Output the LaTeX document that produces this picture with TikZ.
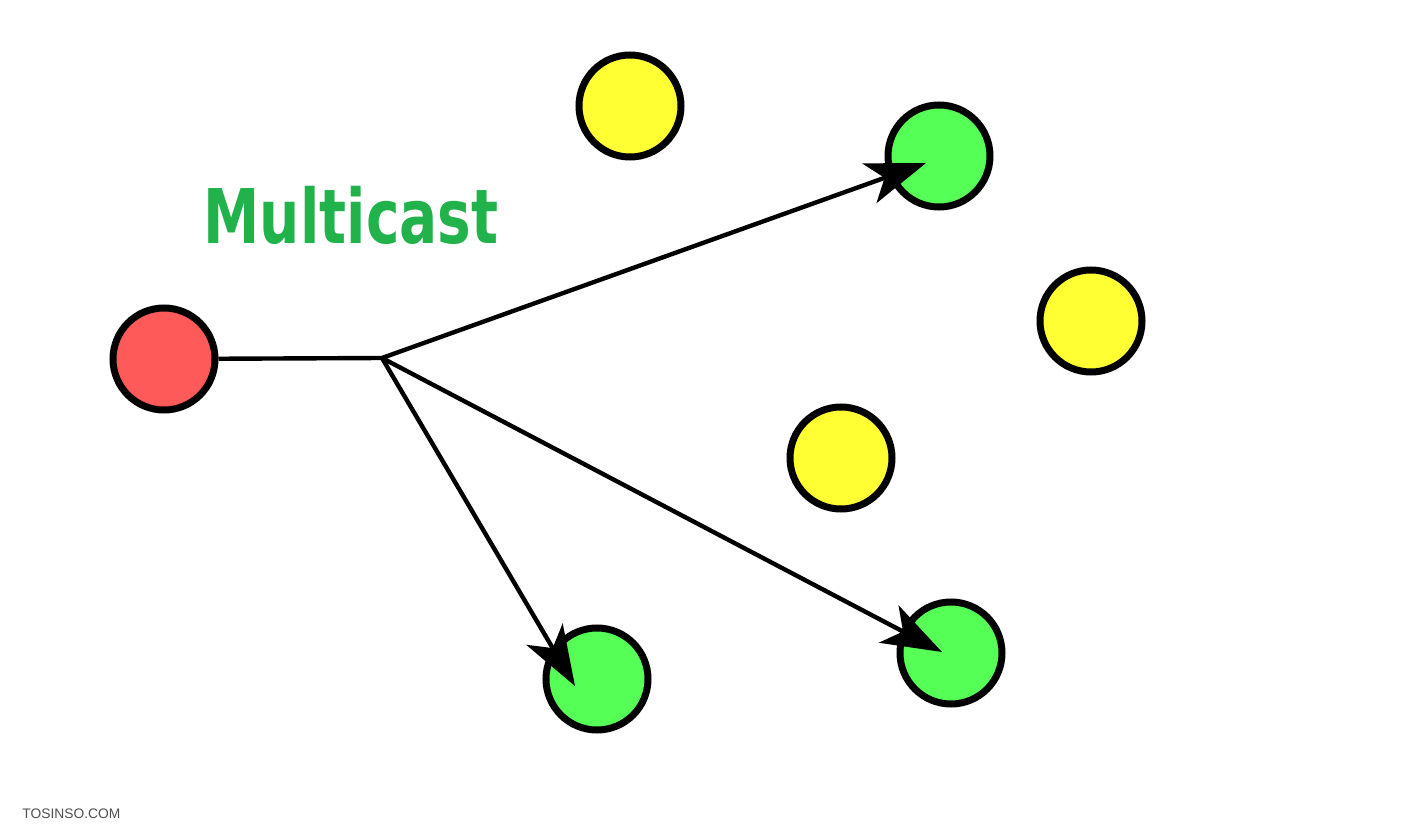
\documentclass[tikz,border=0pt]{standalone}
\usepackage{fontspec}
\setmainfont{DejaVu Sans}
\newfontfamily\wmfont{Liberation Sans}
\usetikzlibrary{arrows.meta}
\definecolor{cred}{RGB}{255,90,90}
\definecolor{cyellow}{RGB}{255,255,51}
\definecolor{cgreen}{RGB}{85,255,85}
\definecolor{ctext}{RGB}{34,178,76}
\definecolor{cwm}{RGB}{80,80,80}
\tikzset{
  host/.style={circle, draw=black, line width=3.5pt, minimum size=51pt, inner sep=0pt},
  link/.style={draw=black, line width=2.2pt},
  cast/.style={link, -{Stealth[length=30pt, width=21pt, inset=8pt]}},
}
\begin{document}
\begin{tikzpicture}[x=0.5pt, y=-0.5pt]
\useasboundingbox (0,0) rectangle (1410,834);
\fill[white] (0,0) rectangle (1410,834);
\node[host, fill=cred] (src) at (164,359) {};
\node[host, fill=cyellow] (y1) at (630,106) {};
\node[host, fill=cyellow] (y2) at (1091,321) {};
\node[host, fill=cyellow] (y3) at (841,458) {};
\node[host, fill=cgreen] (g1) at (939,156) {};
\node[host, fill=cgreen] (g2) at (597,679) {};
\node[host, fill=cgreen] (g3) at (951,653) {};
\coordinate (j) at (382,358);
\coordinate (t1) at (926,163);
\coordinate (t2) at (575,686);
\coordinate (t3) at (942,652);
\draw[link] (src) -- (j);
\draw[cast] (j) -- (t1);
\draw[cast] (j) -- (t2);
\draw[cast] (j) -- (t3);
\node[anchor=base, inner sep=0pt, text=ctext, font=\bfseries\fontsize{37.7pt}{40pt}\selectfont] (title) at (351,244) {\scalebox{0.75}[1]{Multicast}};
\node[anchor=base west, inner sep=0pt, text=cwm, font=\wmfont\fontsize{6.9pt}{8pt}\selectfont] (wm) at (22,818) {TOSINSO.COM};
\end{tikzpicture}
\end{document}
